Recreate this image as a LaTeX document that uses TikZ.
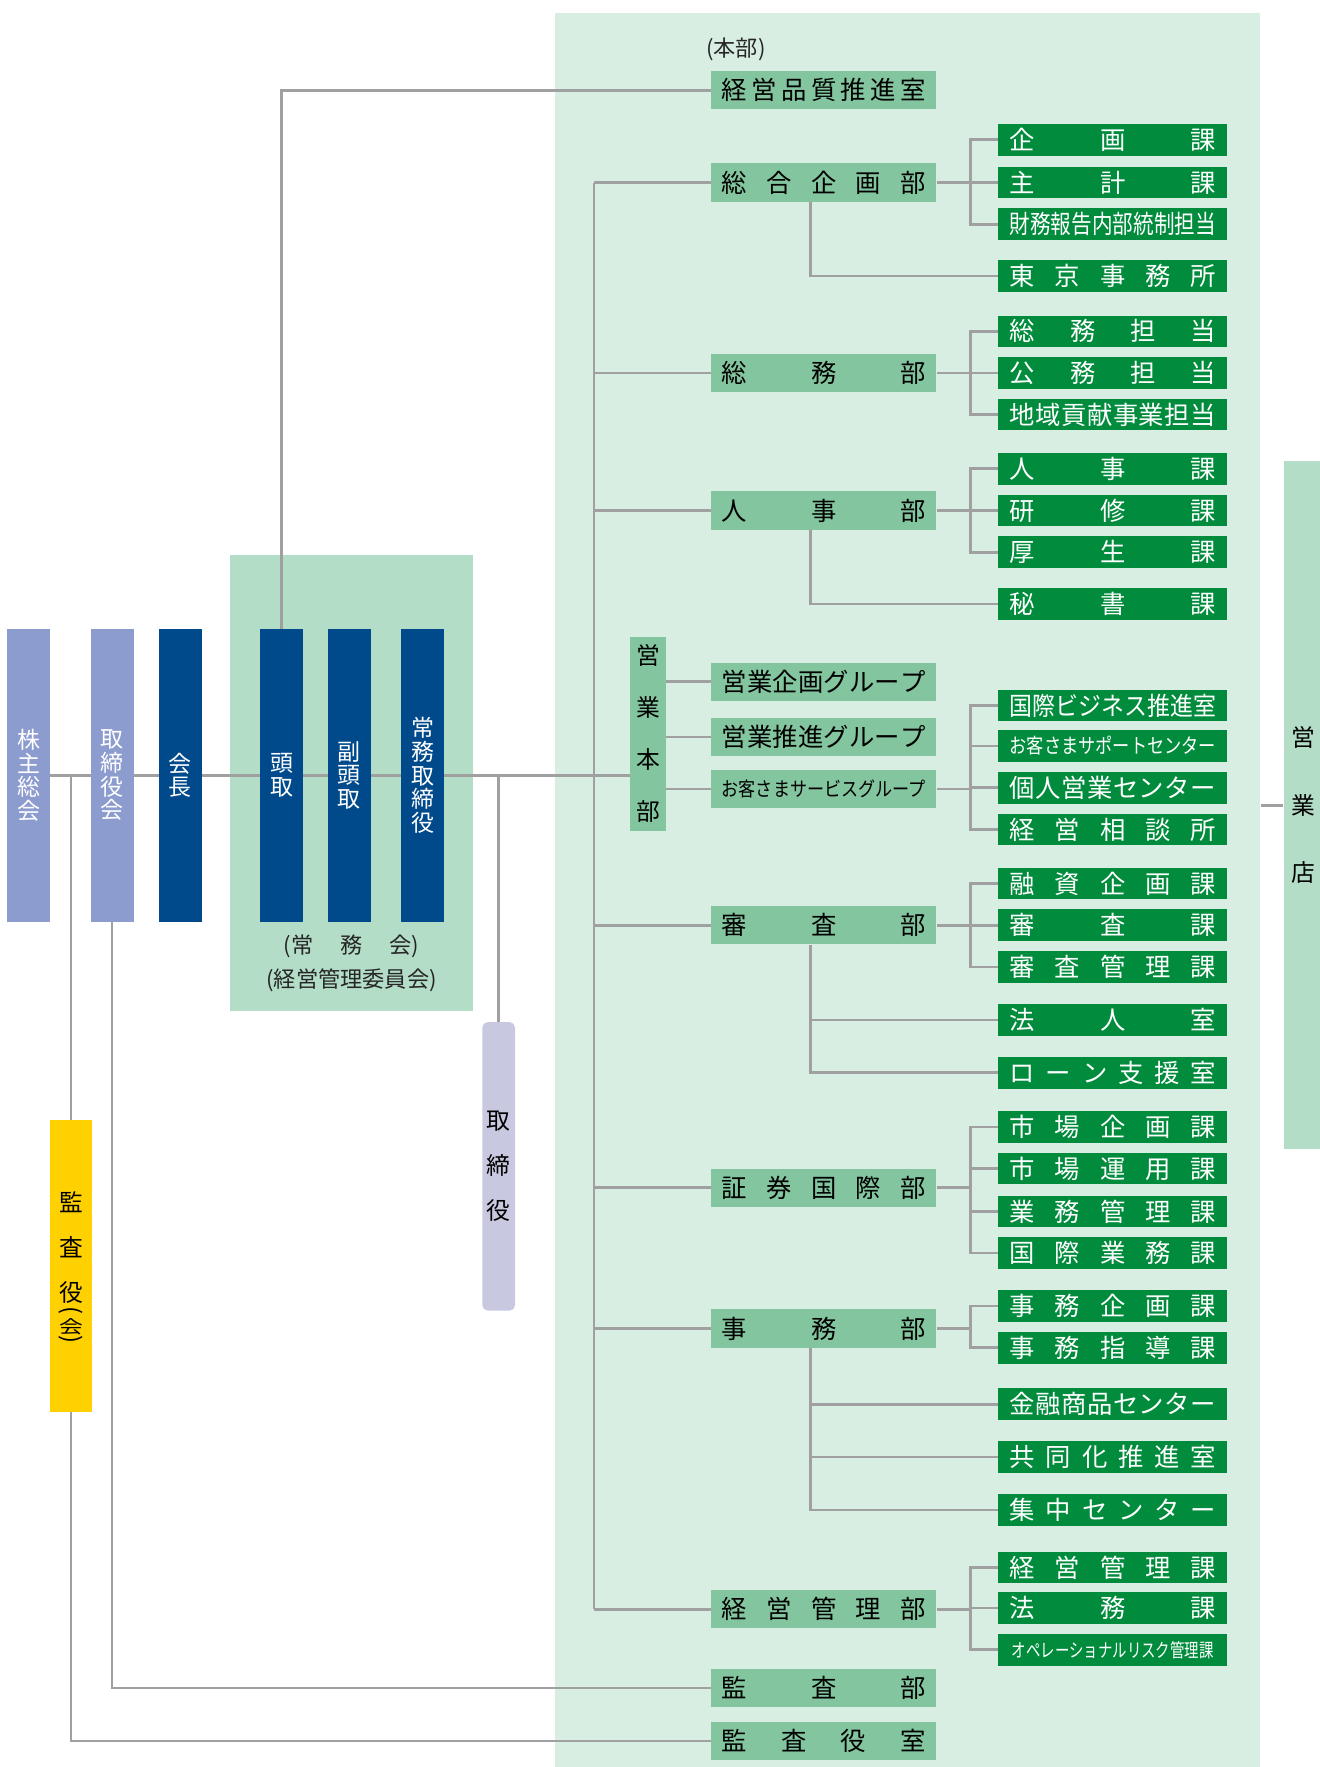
\documentclass[tikz,border=0pt]{standalone}
\usepackage{fontspec}
\setmainfont{Noto Sans CJK JP}
\usepackage{graphicx}
\usetikzlibrary{positioning}

\definecolor{hqbg}{HTML}{D9EEE3}
\definecolor{boardbg}{HTML}{B3DDC7}
\definecolor{deptgreen}{HTML}{82C59E}
\definecolor{secgreen}{HTML}{008C3C}
\definecolor{execblue}{HTML}{004A8C}
\definecolor{assembly}{HTML}{8C9CCF}
\definecolor{directors}{HTML}{C8C9E0}
\definecolor{auditor}{HTML}{FFD100}
\definecolor{linegray}{HTML}{A0A0A0}

% spread characters evenly over a given width
\makeatletter
\def\spr@#1#2\@nil{#1\ifx\relax#2\relax\else\hfill\spr@#2\@nil\fi}
\newcommand\spr[2]{\makebox[#1][s]{\spr@#2\@nil}}
\makeatother
\newlength\txtw
\newcommand\fitin[2]{\settowidth\txtw{#2}\ifdim\txtw>#1\relax\resizebox{#1}{\height}{#2}\else\spr{#1}{#2}\fi}
\newcommand\dtext[1]{\fitin{45.25mm}{#1}}
\newcommand\stext[1]{\fitin{45.75mm}{#1}}

\pgfdeclarelayer{back}
\pgfdeclarelayer{wires}
\pgfsetlayers{back,wires,main}

\tikzset{
  wire/.style={draw=linegray, line width=0.6mm},
  dept/.style={fill=deptgreen, text=black, minimum width=50mm, minimum height=8.5mm, inner sep=0pt, font=\fontsize{16pt}{16pt}\selectfont},
  sect/.style={fill=secgreen, text=white, minimum width=50.75mm, minimum height=7mm, inner sep=0pt, font=\fontsize{16pt}{16pt}\selectfont},
  pillar/.style={text=white, minimum width=9.5mm, minimum height=65mm, inner sep=0pt, align=center, font=\fontsize{14.5pt}{15pt}\selectfont},
  tallbar/.style={inner sep=0pt, align=center, text=black, font=\fontsize{15pt}{10mm}\selectfont},
  note/.style={inner sep=0pt, text=black!85, font=\fontsize{14pt}{14pt}\selectfont},
}

\begin{document}
\begin{tikzpicture}[x=0.25mm, y=-0.25mm]
  \useasboundingbox (0,0) rectangle (1171,1568);

  \begin{pgfonlayer}{back}
    \node[fill=hqbg, anchor=north west, minimum width=156.5mm, minimum height=389.25mm, inner sep=0pt] (hq) at (492,11) {};
    \node[fill=boardbg, anchor=north west, minimum width=53.75mm, minimum height=101.25mm, inner sep=0pt] (board) at (204,492) {};
  \end{pgfonlayer}

  % top management
  \node[pillar, fill=assembly] (kabu) at (25.5,688) {株\\主\\総\\会};
  \node[pillar, fill=assembly] (torikai) at (99.5,688) {取\\締\\役\\会};
  \node[pillar, fill=execblue] (kaicho) at (160,688) {会\\長};
  \node[pillar, fill=execblue] (todori) at (250,688) {頭\\取};
  \node[pillar, fill=execblue] (fuku) at (310,688) {副\\頭\\取};
  \node[pillar, fill=execblue] (jomu) at (375,688) {常\\務\\取\\締\\役};
  \node[note] (jomukai) at (312,840) {(\spr{26.75mm}{常務会})};
  \node[note] (iinkai) at (312,870) {(経営管理委員会)};

  \node[tallbar, fill=directors, rounded corners=1.2mm, minimum width=7.25mm, minimum height=64mm] (torishimari) at (442.5,1035) {取\\締\\役};
  \node[fill=auditor, minimum width=9.5mm, minimum height=64.75mm, inner sep=0pt] (kansa) at (63,1123.5) {};
  \node[tallbar] (kansalabel) at (63,1107) {監\\査\\役};
  \node[tallbar] (kansaopen) at (63,1164) {\rotatebox[origin=c]{-90}{(}};
  \node[tallbar] (kansakai) at (63,1177) {\scalebox{1}[0.75]{会}};
  \node[tallbar] (kansaclose) at (63,1190) {\rotatebox[origin=c]{-90}{)}};

  % headquarters
  \node[note] (honbulabel) at (653,44) {(本部)};
  \node[tallbar, fill=deptgreen, minimum width=8mm, minimum height=43mm, font=\fontsize{15pt}{11.5mm}\selectfont] (honbu) at (575,651) {営\\業\\本\\部};
  \node[tallbar, fill=boardbg, minimum width=8mm, minimum height=152.75mm, font=\fontsize{15pt}{15mm}\selectfont] (eigyoten) at (1155,714.5) {\hspace*{1mm}営\\\hspace*{1mm}業\\\hspace*{1mm}店};

  \node[dept] (hinshitsu) at (731,80) {\dtext{経営品質推進室}};
  \node[dept] (sogo) at (731,162) {\dtext{総合企画部}};
  \node[dept] (somu) at (731,331) {\dtext{総務部}};
  \node[dept] (jinji) at (731,453) {\dtext{人事部}};
  \node[dept] (eg1) at (731,605) {\dtext{営業企画グループ}};
  \node[dept] (eg2) at (731,654) {\dtext{営業推進グループ}};
  \node[dept, font=\fontsize{12.5pt}{12.5pt}\selectfont] (eg3) at (731,700) {\dtext{お客さまサービスグループ}};
  \node[dept] (shinsa) at (731,821) {\dtext{審査部}};
  \node[dept] (shoken) at (731,1054) {\dtext{証券国際部}};
  \node[dept] (jimu) at (731,1179) {\dtext{事務部}};
  \node[dept] (keiei) at (731,1428) {\dtext{経営管理部}};
  \node[dept] (kansabu) at (731,1498) {\dtext{監査部}};
  \node[dept] (kansashitsu) at (731,1545) {\dtext{監査役室}};

  \node[sect] (kikaku) at (987.5,124) {\stext{企画課}};
  \node[sect] (shukei) at (987.5,162) {\stext{主計課}};
  \node[sect] (zaimu) at (987.5,199) {\stext{財務報告内部統制担当}};
  \node[sect] (tokyo) at (987.5,245) {\stext{東京事務所}};
  \node[sect] (somutanto) at (987.5,294) {\stext{総務担当}};
  \node[sect] (komu) at (987.5,331) {\stext{公務担当}};
  \node[sect] (chiiki) at (987.5,368) {\stext{地域貢献事業担当}};
  \node[sect] (jinjika) at (987.5,416) {\stext{人事課}};
  \node[sect] (kenshu) at (987.5,453) {\stext{研修課}};
  \node[sect] (kosei) at (987.5,490) {\stext{厚生課}};
  \node[sect] (hisho) at (987.5,536) {\stext{秘書課}};
  \node[sect] (kokusai) at (987.5,626) {\stext{国際ビジネス推進室}};
  \node[sect, font=\fontsize{13pt}{13pt}\selectfont] (support) at (987.5,662) {\stext{お客さまサポートセンター}};
  \node[sect] (kojin) at (987.5,699) {\stext{個人営業センター}};
  \node[sect] (sodan) at (987.5,736) {\stext{経営相談所}};
  \node[sect] (yushi) at (987.5,784) {\stext{融資企画課}};
  \node[sect] (shinsaka) at (987.5,821) {\stext{審査課}};
  \node[sect] (shinsakanri) at (987.5,858) {\stext{審査管理課}};
  \node[sect] (hojin) at (987.5,905) {\stext{法人室}};
  \node[sect] (loan) at (987.5,952) {\stext{ローン支援室}};
  \node[sect] (ichiba) at (987.5,1000) {\stext{市場企画課}};
  \node[sect] (unyo) at (987.5,1037) {\stext{市場運用課}};
  \node[sect] (gyomu) at (987.5,1075) {\stext{業務管理課}};
  \node[sect] (kokusaigyomu) at (987.5,1112) {\stext{国際業務課}};
  \node[sect] (jimukikaku) at (987.5,1159) {\stext{事務企画課}};
  \node[sect] (shido) at (987.5,1196) {\stext{事務指導課}};
  \node[sect] (kinyu) at (987.5,1246) {\stext{金融商品センター}};
  \node[sect] (kyodo) at (987.5,1293) {\stext{共同化推進室}};
  \node[sect] (shuchu) at (987.5,1340) {\stext{集中センター}};
  \node[sect] (keieika) at (987.5,1391) {\stext{経営管理課}};
  \node[sect] (homu) at (987.5,1427) {\stext{法務課}};
  \node[sect, font=\fontsize{12pt}{12pt}\selectfont] (oper) at (987.5,1464) {\fitin{44.75mm}{オペレーショナルリスク管理課}};

  \begin{pgfonlayer}{wires}
    \coordinate (spine) at (527,0);
    \coordinate (fork) at (861,0);
    \coordinate (drop) at (719,0);
    % top management lines
    \draw[wire] (kabu.east) -- (kabu.east -| honbu.west);
    \draw[wire] (todori.north) |- (hinshitsu.west);
    \draw[wire] (kabu.east -| torishimari.north) -- (torishimari.north);
    \draw[wire] (kabu.east -| kansa.north) |- (kansashitsu.west);
    \draw[wire] (torikai.south) |- (kansabu.west);
    % spine and departments
    \draw[wire] (sogo.west -| spine) -- (keiei.west -| spine);
    \foreach \dpt in {sogo,somu,jinji,shinsa,shoken,jimu,keiei}
      \draw[wire] (\dpt.west) -- (\dpt.west -| spine);
    \foreach \grp in {eg1,eg2,eg3}
      \draw[wire] (\grp.west) -- (\grp.west -| honbu.east);
    % brackets to sections
    \foreach \dpt/\scts in {sogo/{kikaku,shukei,zaimu}, somu/{somutanto,komu,chiiki}, jinji/{jinjika,kenshu,kosei},
        eg3/{kokusai,support,kojin,sodan}, shinsa/{yushi,shinsaka,shinsakanri},
        shoken/{ichiba,unyo,gyomu,kokusaigyomu}, jimu/{jimukikaku,shido}, keiei/{keieika,homu,oper}}{
      \draw[wire] (\dpt.east) -- (\dpt.east -| fork);
      \foreach \sct in \scts
        \draw[wire] (\sct.west) -| (\dpt.east -| fork);
    }
    % drops below departments
    \foreach \dpt/\sct in {sogo/tokyo, jinji/hisho, shinsa/hojin, shinsa/loan, jimu/kinyu, jimu/kyodo, jimu/shuchu}
      \draw[wire] (\dpt.south -| drop) |- (\sct.west);
    \draw[wire] (eigyoten.west) -- (eigyoten.west -| hq.east);
  \end{pgfonlayer}
\end{tikzpicture}
\end{document}
